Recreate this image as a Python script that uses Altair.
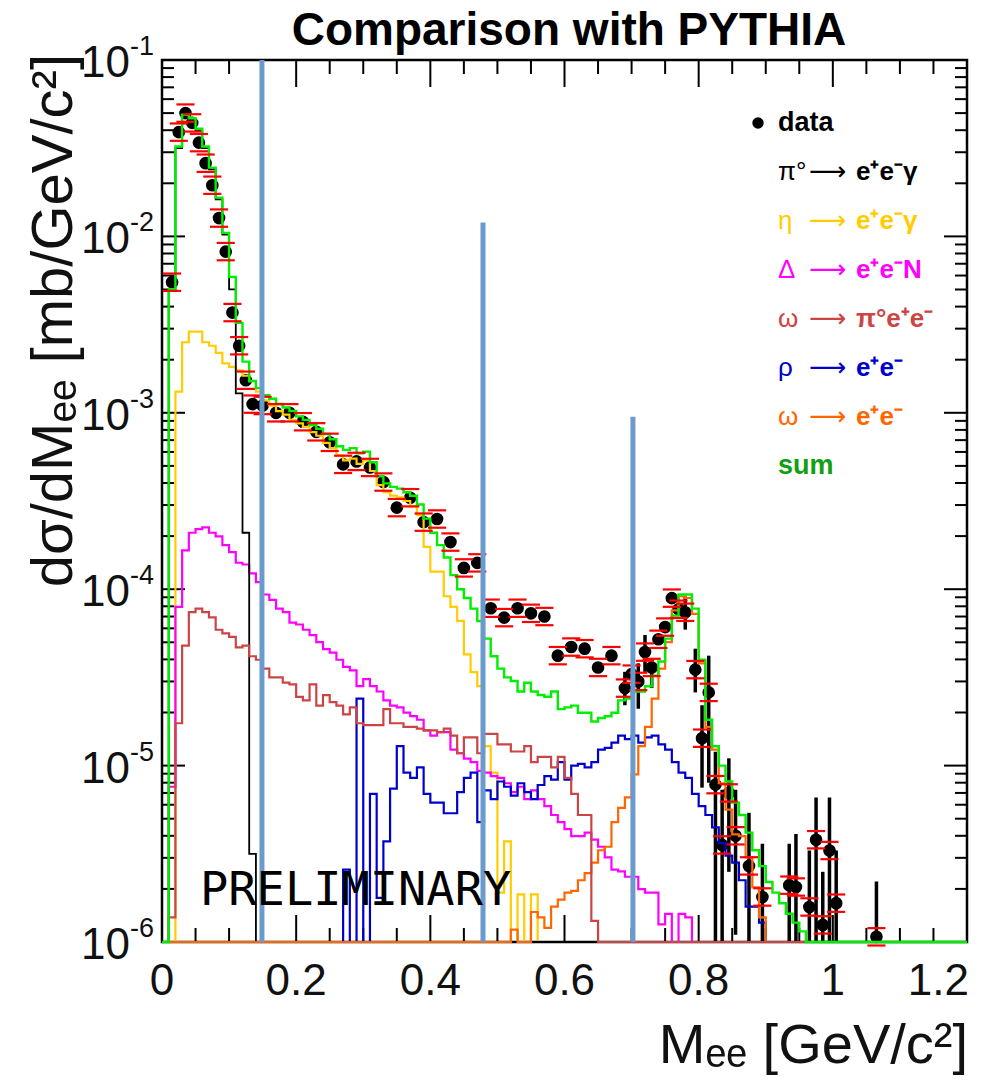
import altair as alt
import pandas as pd

W, H = 805, 882
X_DOMAIN = [0.0, 1.2]
Y_DOMAIN = [1e-6, 1e-1]
BIN = 0.01
N_BINS = 120
FLOOR = 1e-6
FONT = "Liberation Sans"

# ---------------- histograms: log10(value) per 0.01 bin, starting at bin index *_start; None = below axis
pi0_start = 1
pi0_log = [-2.31, -1.50, -1.32, -1.34, -1.40, -1.50, -1.62, -1.79, -1.99, -2.30, -2.89, -3.68, -5.50]

eta_start = 2
eta_log = [-2.88, -2.60, -2.54, -2.54, -2.60, -2.62, -2.66, -2.72, -2.74, -2.76, -2.79, -2.82, -2.88,
           -2.93, -2.96, -2.99, -3.01, -3.04, -3.06, -3.08, -3.11, -3.13, -3.17, -3.20, -3.24, -3.27, -3.26, -3.29, -3.27,
           -3.33, -3.41, -3.45, -3.47, -3.48, -3.50, -3.53, -3.58, -3.76, -3.90, -3.90, -4.04, -4.10, -4.18, -4.37, -4.47,
           -4.55, -4.89, -5.04, -5.72, -5.43, None, -5.73, None, -5.73]

delta_start = 1
delta_log = [-5.12, -4.10, -3.78, -3.68, -3.66, -3.65, -3.68, -3.70, -3.75, -3.79, -3.85, -3.86, -3.91, -3.96,
             -4.03, -4.06, -4.11, -4.13, -4.19, -4.20, -4.23, -4.26, -4.30, -4.34, -4.36, -4.40, -4.44, -4.46, -4.55, -4.51,
             -4.55, -4.58, -4.63, -4.66, -4.67, -4.70, -4.72, -4.74, -4.80, -4.83, -4.81, -4.81, -4.91, -4.93, -4.96, -4.98,
             -5.03, -5.04, -5.06, -5.07, -5.10, -5.15, -5.12, -5.19, -5.14, -5.19, -5.23, -5.28, -5.32, -5.36, -5.40, -5.40,
             -5.38, -5.42, -5.46, -5.52, -5.59, -5.60, -5.63, -5.63, -5.70, -5.72, -5.72, -5.90, -5.84, None, -5.84, -5.86]

omega_dalitz_start = 1
omega_dalitz_log = [-5.86, -4.76, -4.32, -4.13, -4.11, -4.13, -4.16, -4.23, -4.25, -4.27, -4.33, -4.32, -4.38, -4.40,
                    -4.45, -4.50, -4.50, -4.53, -4.54, -4.61, -4.63, -4.54, -4.66, -4.60, -4.64, -4.66, -4.71, -4.67, -4.76, -4.77,
                    -4.77, -4.77, -4.68, -4.76, -4.76, -4.78, -4.78, -4.79, -4.80, -4.80, -4.81, -4.79, -4.83, -4.93, -4.84, -4.84,
                    -4.93, -4.82, -4.82, -4.88, -4.88, -4.92, -4.92, -4.89, -4.98, -4.95, -4.95, -5.01, -4.95, -5.07, -5.16,
                    -5.28, -5.28, -5.88]

rho_start = 27
rho_log = [-5.59, None, -4.62, None, -5.16, -5.75, -5.43,
           -5.13, -4.89, -5.04, -5.07, -5.01, -5.16, -5.21, -5.21, -5.27, -5.27, -5.15, -5.07, -5.04, -5.32, -5.14, -5.19,
           -5.09, -5.12, -5.17, -5.10, -5.15, -5.19, -5.11, -5.06, -5.08, -4.98, -5.08, -5.00, -4.99, -5.01, -4.98, -4.91,
           -4.90, -4.87, -4.83, -4.85, -4.83, -4.87, -4.84, -4.83, -4.88, -4.91, -4.98, -5.04, -5.07, -5.16, -5.23, -5.28,
           -5.35, -5.44, -5.51, -5.55, -5.65, -5.80, -5.80, -5.89]

omega_ee_start = 52
omega_ee_log = [-5.93, None, None, -5.83, -5.86, -5.92, -5.80, -5.76, -5.72, -5.71, -5.65, -5.61, -5.55, -5.48, -5.46,
                -5.32, -5.24, -5.18, -5.05, -4.89, -4.78, -4.62, -4.45, -4.30, -4.12, -4.04, -4.05, -4.14, -4.42, -4.78,
                -4.91, -5.10, -5.25, -5.39, -5.40, -5.52, -5.69, -5.86]

sum_start = 1
sum_log = [-2.30, -1.49, -1.31, -1.33, -1.39, -1.49, -1.61, -1.78, -1.98, -2.23, -2.49, -2.71, -2.82, -2.86,
           -2.90, -2.92, -2.95, -2.97, -2.99, -3.02, -3.04, -3.07, -3.09, -3.12, -3.15, -3.19, -3.21, -3.20, -3.23, -3.22,
           -3.28, -3.36, -3.40, -3.42, -3.43, -3.45, -3.47, -3.52, -3.60, -3.68, -3.75, -3.82, -3.92, -4.00, -4.05, -4.11,
           -4.18, -4.28, -4.38, -4.45, -4.50, -4.52, -4.58, -4.53, -4.58, -4.60, -4.61, -4.58, -4.68, -4.67, -4.66, -4.70,
           -4.70, -4.75, -4.73, -4.72, -4.70, -4.63, -4.62, -4.58, -4.58, -4.55, -4.49, -4.41, -4.28, -4.15, -4.03, -4.03,
           -4.11, -4.40, -4.74, -4.89, -5.00, -5.09, -5.21, -5.28, -5.38, -5.48, -5.57, -5.66, -5.72, -5.78, -5.84, -5.89,
           -5.94]

# ---------------- data points
data_x = [0.015, 0.025, 0.035, 0.045, 0.055, 0.065, 0.075, 0.085, 0.095, 0.105, 0.115, 0.125, 0.135,
          0.15, 0.17, 0.19, 0.21, 0.23, 0.25, 0.27, 0.29, 0.31, 0.33, 0.35, 0.37, 0.39, 0.41, 0.43, 0.45, 0.47, 0.49,
          0.51, 0.53, 0.55, 0.57, 0.59, 0.61, 0.63, 0.65, 0.67, 0.69,
          0.70, 0.71, 0.72, 0.73, 0.74, 0.75, 0.76, 0.77, 0.78, 0.795, 0.805, 0.815, 0.825, 0.835, 0.845, 0.855,
          0.875, 0.895, 0.935, 0.945, 0.965, 0.975, 0.985, 0.995, 1.005, 1.065]
data_y = [5.5e-3, 3.9e-2, 5.0e-2, 4.4e-2, 3.4e-2, 2.6e-2, 1.95e-2, 1.27e-2, 8.2e-3, 3.7e-3, 2.4e-3, 1.53e-3, 1.12e-3,
          1.1e-3, 1.0e-3, 1.0e-3, 8.9e-4, 7.8e-4, 6.8e-4, 5.1e-4, 5.3e-4, 4.9e-4, 4.05e-4, 2.9e-4, 3.3e-4, 2.4e-4,
          2.5e-4, 1.85e-4, 1.32e-4, 1.41e-4, 7.8e-5,
          6.9e-5, 7.8e-5, 7.3e-5, 7.0e-5, 4.2e-5, 4.7e-5, 4.6e-5, 3.6e-5, 4.2e-5, 2.75e-5,
          3.3e-5, 3.0e-5, 4.4e-5, 3.6e-5, 5.2e-5, 6.1e-5, 8.9e-5, 7.7e-5, 7.4e-5, 3.5e-5, 1.43e-5, 2.6e-5, 7.8e-6,
          3.55e-6, 7.0e-6, 4.0e-6,
          2.7e-6, 1.8e-6, 2.1e-6, 2.05e-6, 1.58e-6, 3.8e-6, 1.25e-6, 3.3e-6, 1.66e-6, 1.07e-6]
SYS_REL = 0.12        # red systematic brackets, relative
CAP_HALF = 0.0135     # half width of the red brackets (GeV/c^2)

# statistical error bars (black) where they are visible
stat_x = [0.69, 0.71, 0.72, 0.73, 0.78, 0.795, 0.805, 0.815, 0.825, 0.835, 0.845, 0.855, 0.875, 0.895, 0.935,
          0.945, 0.965, 0.975, 0.985, 0.995, 1.005, 1.065]
stat_lo = [2.2e-5, 2.1e-5, 3.4e-5, 2.75e-5, 5.9e-5, 2.6e-5, 7.5e-6, 8e-6, 1e-7, 1e-7, 2.5e-6, 1.1e-6, 1.0e-6,
           1e-7, 1e-7, 1e-7, 1e-7, 1e-7, 1e-7, 1e-7, 1e-7, 1e-7]
stat_hi = [3.4e-5, 3.8e-5, 5.5e-5, 4.0e-5, 9.1e-5, 4.6e-5, 2.2e-5, 4.2e-5, 1.2e-5, 7.3e-6, 1.1e-5, 7.3e-6, 5.4e-6,
           3.6e-6, 3.6e-6, 4.1e-6, 3.3e-6, 6.6e-6, 2.5e-6, 6.6e-6, 3.3e-6, 2.2e-6]

# blue vertical annotation lines
marker_x = [0.149, 0.4785, 0.702]
marker_top = [1e-1, 1.2e-2, 9.5e-4]

# axis labels
x_tick_vals = [0.0, 0.2, 0.4, 0.6, 0.8, 1.0, 1.2]
x_tick_text = ["0", "0.2", "0.4", "0.6", "0.8", "1", "1.2"]
y_tick_vals = [1e-6, 1e-5, 1e-4, 1e-3, 1e-2, 1e-1]
y_tick_exp = ["-6", "-5", "-4", "-3", "-2", "-1"]

legend_greek = ["", "π°", "η", "Δ", "ω", "ρ", "ω", ""]
legend_rest = ["data", "e⁺e⁻γ", "e⁺e⁻γ", "e⁺e⁻N", "π°e⁺e⁻", "e⁺e⁻", "e⁺e⁻", "sum"]
legend_colors = ["#000000", "#000000", "#ffcc00", "#ff00ff", "#cc4444", "#0000cc", "#ff6600", "#10a010"]

TITLE = "Comparison with PYTHIA"
X_TITLE = "Mₑₑ [GeV/c²]"
Y_TITLE = "dσ/dMₑₑ [mb/GeV/c²]"

# ---------------- scales
x_scale = alt.Scale(domain=X_DOMAIN, nice=False, zero=False)
y_scale = alt.Scale(type="log", domain=Y_DOMAIN, nice=False)


def XQ(f):
    return alt.X(f, type="quantitative", scale=x_scale, axis=None)


def YQ(f):
    return alt.Y(f, type="quantitative", scale=y_scale, axis=None)


def hist_frame(start, logs):
    vals = [None] * N_BINS
    for i, v in enumerate(logs):
        vals[start + i] = v
    rows = []
    for k in range(N_BINS):
        v = vals[k]
        y = FLOOR if v is None else max(10 ** v, FLOOR)
        rows.append({"x": round(k * BIN, 4), "y": y})
    rows.append({"x": round(N_BINS * BIN, 4), "y": rows[-1]["y"]})
    return pd.DataFrame(rows)


def hist_layer(start, logs, color, width=2.2):
    return alt.Chart(hist_frame(start, logs)).mark_line(
        interpolate="step-after", color=color, strokeWidth=width
    ).encode(x=XQ("x"), y=YQ("y"))


layers = []

# ticks (inside the frame, on all four sides)
y_major = y_tick_vals
y_minor = [m * 10.0 ** e for e in range(-6, -1) for m in range(2, 10)]
x_major = x_tick_vals
x_minor = [round(0.05 * i, 3) for i in range(1, 24) if i % 4 != 0]

for vals, L in ((y_minor, 12), (y_major, 23)):
    df = pd.DataFrame({"y": vals})
    layers.append(alt.Chart(df).mark_rule(color="black", strokeWidth=2).encode(
        y=YQ("y"), x=alt.value(0), x2=alt.value(L)))
    layers.append(alt.Chart(df).mark_rule(color="black", strokeWidth=2).encode(
        y=YQ("y"), x=alt.value(W - L), x2=alt.value(W)))
for vals, L in ((x_minor, 14), (x_major, 27)):
    df = pd.DataFrame({"x": vals})
    layers.append(alt.Chart(df).mark_rule(color="black", strokeWidth=2).encode(
        x=XQ("x"), y=alt.value(H), y2=alt.value(H - L)))
    layers.append(alt.Chart(df).mark_rule(color="black", strokeWidth=2).encode(
        x=XQ("x"), y=alt.value(0), y2=alt.value(L)))

# data: stat bars, markers
stat_df = pd.DataFrame({"x": stat_x, "lo": stat_lo, "hi": stat_hi})
layers.append(alt.Chart(stat_df).mark_rule(color="black", strokeWidth=3.5, clip=True).encode(
    x=XQ("x"), y=YQ("lo"), y2="hi"))

pts = pd.DataFrame({"x": data_x, "y": data_y})
pts["hi"] = pts["y"] * (1 + SYS_REL)
pts["lo"] = pts["y"] / (1 + SYS_REL)
pts["x1"] = pts["x"] - CAP_HALF
pts["x2"] = pts["x"] + CAP_HALF
layers.append(alt.Chart(pts).mark_circle(size=160, color="black", opacity=1).encode(x=XQ("x"), y=YQ("y")))

# histograms (drawing order matters for the lines lying on the axis)
layers.append(hist_layer(eta_start, eta_log, "#ffcc00"))
layers.append(hist_layer(delta_start, delta_log, "#ff00ff"))
layers.append(hist_layer(rho_start, rho_log, "#0000cc"))
layers.append(hist_layer(pi0_start, pi0_log, "#000000", 1.8))
layers.append(hist_layer(omega_ee_start, omega_ee_log, "#ff6600"))
layers.append(hist_layer(omega_dalitz_start, omega_dalitz_log, "#cc4444"))
layers.append(hist_layer(sum_start, sum_log, "#00ee00", 2.4))

# red systematic brackets
layers.append(alt.Chart(pts).mark_rule(color="#ff0000", strokeWidth=2.2).encode(
    x=XQ("x1"), x2="x2", y=YQ("hi")))
layers.append(alt.Chart(pts).mark_rule(color="#ff0000", strokeWidth=2.2).encode(
    x=XQ("x1"), x2="x2", y=YQ("lo")))

# blue annotation lines
mk = pd.DataFrame({"x": marker_x, "top": marker_top, "bottom": [FLOOR] * len(marker_x)})
layers.append(alt.Chart(mk).mark_rule(color="#6b9bcd", strokeWidth=5).encode(
    x=XQ("x"), y=YQ("top"), y2="bottom"))

# PRELIMINARY
layers.append(alt.Chart(pd.DataFrame({"t": ["PRELIMINARY"]})).mark_text(
    font="DejaVu Sans Mono", fontSize=47, align="left", baseline="middle", color="black"
).encode(x=alt.value(38), y=alt.value(831), text="t:N"))

# tick labels
xl = pd.DataFrame({"x": x_tick_vals[:-1], "t": x_tick_text[:-1]})
layers.append(alt.Chart(xl).mark_text(font=FONT, fontSize=44, align="center", baseline="top", color="#111").encode(
    x=XQ("x"), y=alt.value(H + 18), text="t:N"))
xl_last = pd.DataFrame({"x": x_tick_vals[-1:], "t": x_tick_text[-1:]})
layers.append(alt.Chart(xl_last).mark_text(font=FONT, fontSize=44, align="right", baseline="top", dx=2,
                                           color="#111").encode(
    x=XQ("x"), y=alt.value(H + 18), text="t:N"))
yl = pd.DataFrame({"y": y_tick_vals, "e": y_tick_exp, "b": ["10"] * len(y_tick_vals)})
layers.append(alt.Chart(yl).mark_text(font=FONT, fontSize=44, align="right", baseline="middle", dy=4, color="#111").encode(
    y=YQ("y"), x=alt.value(-32), text="b:N"))
layers.append(alt.Chart(yl).mark_text(font=FONT, fontSize=27, align="left", baseline="middle", dy=-13, color="#111").encode(
    y=YQ("y"), x=alt.value(-32), text="e:N"))

# titles
layers.append(alt.Chart(pd.DataFrame({"t": [TITLE]})).mark_text(
    font=FONT, fontSize=46, fontWeight="bold", align="center", baseline="middle", color="black"
).encode(x=alt.value(407), y=alt.value(-29), text="t:N"))
layers.append(alt.Chart(pd.DataFrame({"t": [X_TITLE]})).mark_text(
    font=FONT, fontSize=56, align="right", baseline="alphabetic", color="#111"
).encode(x=alt.value(W + 1), y=alt.value(H + 121), text="t:N"))
layers.append(alt.Chart(pd.DataFrame({"t": [Y_TITLE]})).mark_text(
    font=FONT, fontSize=58, align="right", baseline="middle", angle=270, color="#111"
).encode(x=alt.value(-107), y=alt.value(-6), text="t:N"))

# legend: greek letter + long arrow in normal weight, decay products in bold
leg = pd.DataFrame({"g": legend_greek, "r": legend_rest, "c": legend_colors,
                    "py": [63 + 49 * i for i in range(len(legend_rest))]})
leg["arrow"] = ["" if g == "" else "⟶" for g in leg["g"]]
leg_dec = leg[leg["g"] != ""]
leg_plain = leg[leg["g"] == ""]
layers.append(alt.Chart(leg_dec).mark_text(font=FONT, fontSize=26, align="left", baseline="middle").encode(
    x=alt.value(616), y=alt.Y("py:Q", scale=None), text="g:N", color=alt.Color("c:N", scale=None)))
layers.append(alt.Chart(leg_dec).mark_text(font="DejaVu Sans", fontSize=26, align="left", baseline="middle").encode(
    x=alt.value(647), y=alt.Y("py:Q", scale=None), text="arrow:N", color=alt.Color("c:N", scale=None)))
layers.append(alt.Chart(leg_dec).mark_text(font=FONT, fontSize=26, fontWeight="bold", align="left",
                                           baseline="middle").encode(
    x=alt.value(694), y=alt.Y("py:Q", scale=None), text="r:N", color=alt.Color("c:N", scale=None)))
layers.append(alt.Chart(leg_plain).mark_text(font=FONT, fontSize=27, fontWeight="bold", align="left",
                                             baseline="middle").encode(
    x=alt.value(616), y=alt.Y("py:Q", scale=None), text="r:N", color=alt.Color("c:N", scale=None)))
layers.append(alt.Chart(leg.iloc[:1]).mark_circle(size=130, color="black", opacity=1).encode(
    x=alt.value(596), y=alt.Y("py:Q", scale=None)))

chart = alt.layer(*layers).properties(
    width=W, height=H,
    padding={"left": 162, "top": 60, "right": 36, "bottom": 146},
    autosize=alt.AutoSizeParams(type="none"),
).configure_view(stroke="black", strokeWidth=2.5)

chart.save("out.html", embed_options={"renderer": "svg", "actions": False})
